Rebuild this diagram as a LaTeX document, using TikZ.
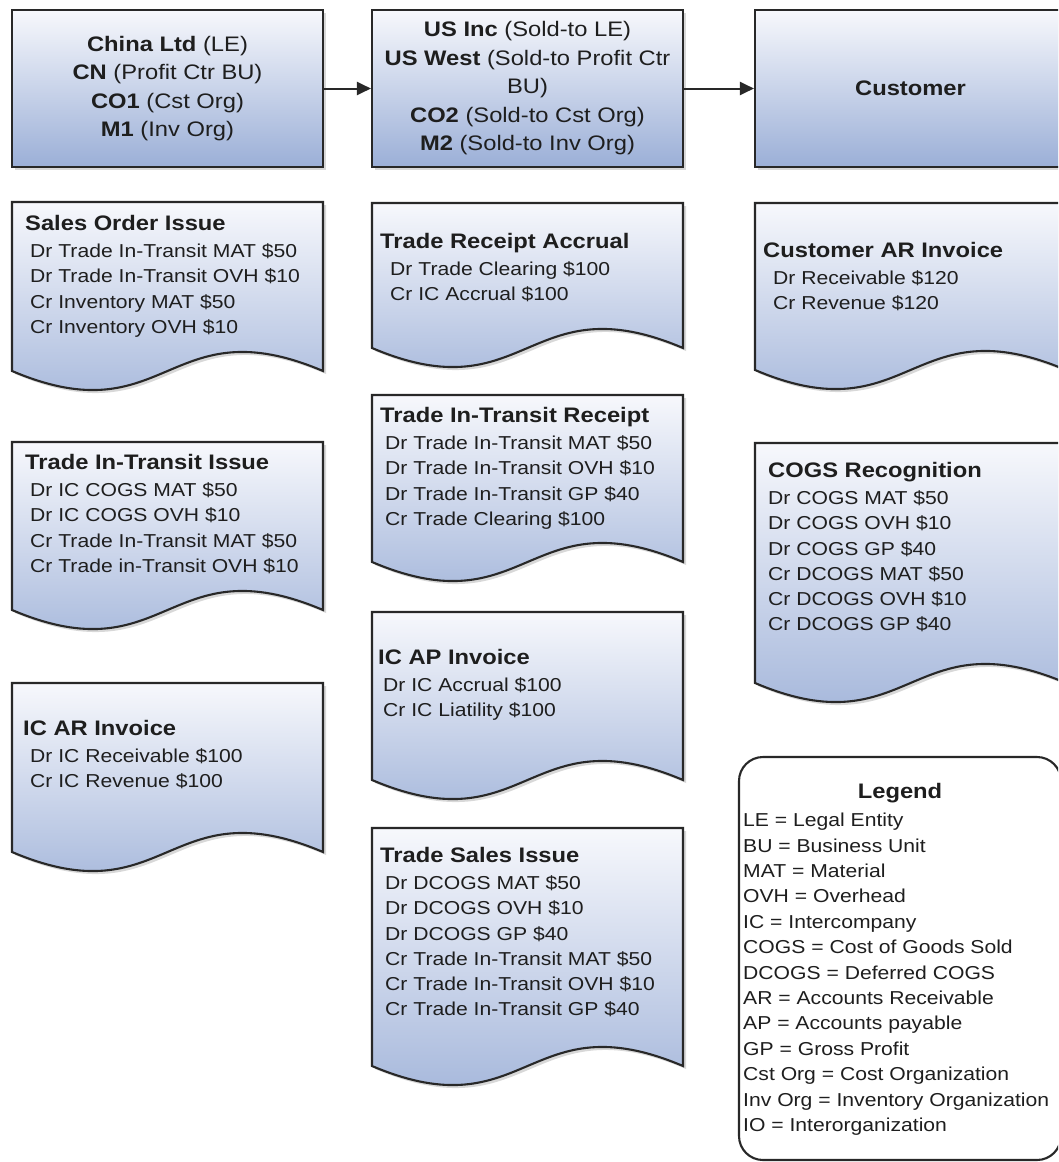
\documentclass[tikz,border=0pt]{standalone}
\usepackage{fontspec}
\setmainfont{Liberation Sans}[FakeStretch=1.13]
\usetikzlibrary{arrows.meta,shadows}
\definecolor{gtop}{RGB}{247,248,252}
\definecolor{gbot}{RGB}{155,175,215}
\definecolor{edge}{RGB}{40,40,40}
\definecolor{ink}{RGB}{30,30,30}
\tikzset{
  shapestyle/.style={draw=edge, line width=2.1pt, top color=gtop, bottom color=gbot,
    drop shadow={opacity=0.3, shadow xshift=3pt, shadow yshift=-3pt}},
  topbox/.style={shapestyle, minimum width=311pt, minimum height=157pt, inner sep=0pt,
    align=center, font=\fontsize{21}{28.5}\selectfont, text=ink},
  doctext/.style={anchor=north west, inner sep=0pt, align=left,
    font=\fontsize{18.7}{25.3}\selectfont, text=ink},
  legendbox/.style={draw=edge, line width=2.1pt, fill=white, rounded corners=24pt},
  legtitle/.style={anchor=base, inner sep=0pt, font=\fontsize{21}{25}\selectfont\bfseries, text=ink},
  conn/.style={line width=2pt, draw=edge, -{Triangle[length=14pt,width=13pt]}},
}
\newcommand{\doctitle}[1]{{\fontsize{21}{25.3}\selectfont\bfseries #1}\\[1.7pt]}
\newcommand{\ix}[1]{\hspace*{#1pt}}
\newcommand{\docshape}[3]{%
  \path[shapestyle] (#1,#2) -- (#1+311,#2) -- (#1+311,#3)
    .. controls (#1+155.5,#3-66) and (#1+155.5,#3+66) .. (#1,#3) -- cycle;}
\begin{document}
\begin{tikzpicture}[x=1pt,y=-1pt]
\useasboundingbox (0,0) rectangle (1058,1162);
\clip (0,0) rectangle (1058,1162);
\fill[white] (0,0) rectangle (1058,1162);

% top boxes
\node[topbox] (china) at (167.5,88.5) {\textbf{China Ltd} (LE)\\\textbf{CN} (Profit Ctr BU)\\\textbf{CO1} (Cst Org)\\\textbf{M1} (Inv Org)};
\node[topbox] (usinc) at (527.5,88.5) {\textbf{US Inc} (Sold-to LE)\\\textbf{US West} (Sold-to Profit Ctr\\BU)\\\textbf{CO2} (Sold-to Cst Org)\\\textbf{M2} (Sold-to Inv Org)};
\node[topbox] (cust) at (910.5,88.5) {\textbf{Customer}};
\draw[conn] (china) -- (usinc);
\draw[conn] (usinc) -- (cust);

% left column
\docshape{12}{202}{371}
\node[doctext] (soi) at (25,215) {\doctitle{Sales Order Issue}\ix{5}Dr Trade In-Transit MAT \$50\\\ix{5}Dr Trade In-Transit OVH \$10\\\ix{5}Cr Inventory MAT \$50\\\ix{5}Cr Inventory OVH \$10};

\docshape{12}{442}{610}
\node[doctext] (titi) at (25,454) {\doctitle{Trade In-Transit Issue}\ix{5}Dr IC COGS MAT \$50\\\ix{5}Dr IC COGS OVH \$10\\\ix{5}Cr Trade In-Transit MAT \$50\\\ix{5}Cr Trade in-Transit OVH \$10};

\docshape{12}{683}{852}
\node[doctext] (icar) at (23,720) {\doctitle{IC AR Invoice}\ix{7}Dr IC Receivable \$100\\\ix{7}Cr IC Revenue \$100};

% middle column
\docshape{372}{203}{348}
\node[doctext] (tra) at (380,233) {\doctitle{Trade Receipt Accrual}\ix{10}Dr Trade Clearing \$100\\\ix{10}Cr IC Accrual \$100};

\docshape{372}{395}{562}
\node[doctext] (titr) at (380,407) {\doctitle{Trade In-Transit Receipt}\ix{5}Dr Trade In-Transit MAT \$50\\\ix{5}Dr Trade In-Transit OVH \$10\\\ix{5}Dr Trade In-Transit GP \$40\\\ix{5}Cr Trade Clearing \$100};

\docshape{372}{612}{780}
\node[doctext] (icap) at (378,649) {\doctitle{IC AP Invoice}\ix{5}Dr IC Accrual \$100\\\ix{5}Cr IC Liatility \$100};

\docshape{372}{828}{1066}
\node[doctext] (tsi) at (380,847) {\doctitle{Trade Sales Issue}\ix{5}Dr DCOGS MAT \$50\\\ix{5}Dr DCOGS OVH \$10\\\ix{5}Dr DCOGS GP \$40\\\ix{5}Cr Trade In-Transit MAT \$50\\\ix{5}Cr Trade In-Transit OVH \$10\\\ix{5}Cr Trade In-Transit GP \$40};

% right column
\docshape{755}{203}{370}
\node[doctext] (car) at (763,242) {\doctitle{Customer AR Invoice}\ix{10}Dr Receivable \$120\\\ix{10}Cr Revenue \$120};

\docshape{755}{443}{683}
\node[doctext] (cogs) at (768,462) {\doctitle{COGS Recognition}Dr COGS MAT \$50\\Dr COGS OVH \$10\\Dr COGS GP \$40\\Cr DCOGS MAT \$50\\Cr DCOGS OVH \$10\\Cr DCOGS GP \$40};

% legend
\node[legendbox, minimum width=322pt, minimum height=403pt] (legend) at (900,958.5) {};
\node[legtitle] (legtitle) at (900,798) {Legend};
\node[doctext, font=\fontsize{18.7}{25.4}\selectfont] (legitems) at (743,813) {LE = Legal Entity\\BU = Business Unit\\MAT = Material\\OVH = Overhead\\IC = Intercompany\\COGS = Cost of Goods Sold\\DCOGS = Deferred COGS\\AR = Accounts Receivable\\AP = Accounts payable\\GP = Gross Profit\\Cst Org = Cost Organization\\Inv Org = Inventory Organization\\IO = Interorganization};
\end{tikzpicture}
\end{document}
